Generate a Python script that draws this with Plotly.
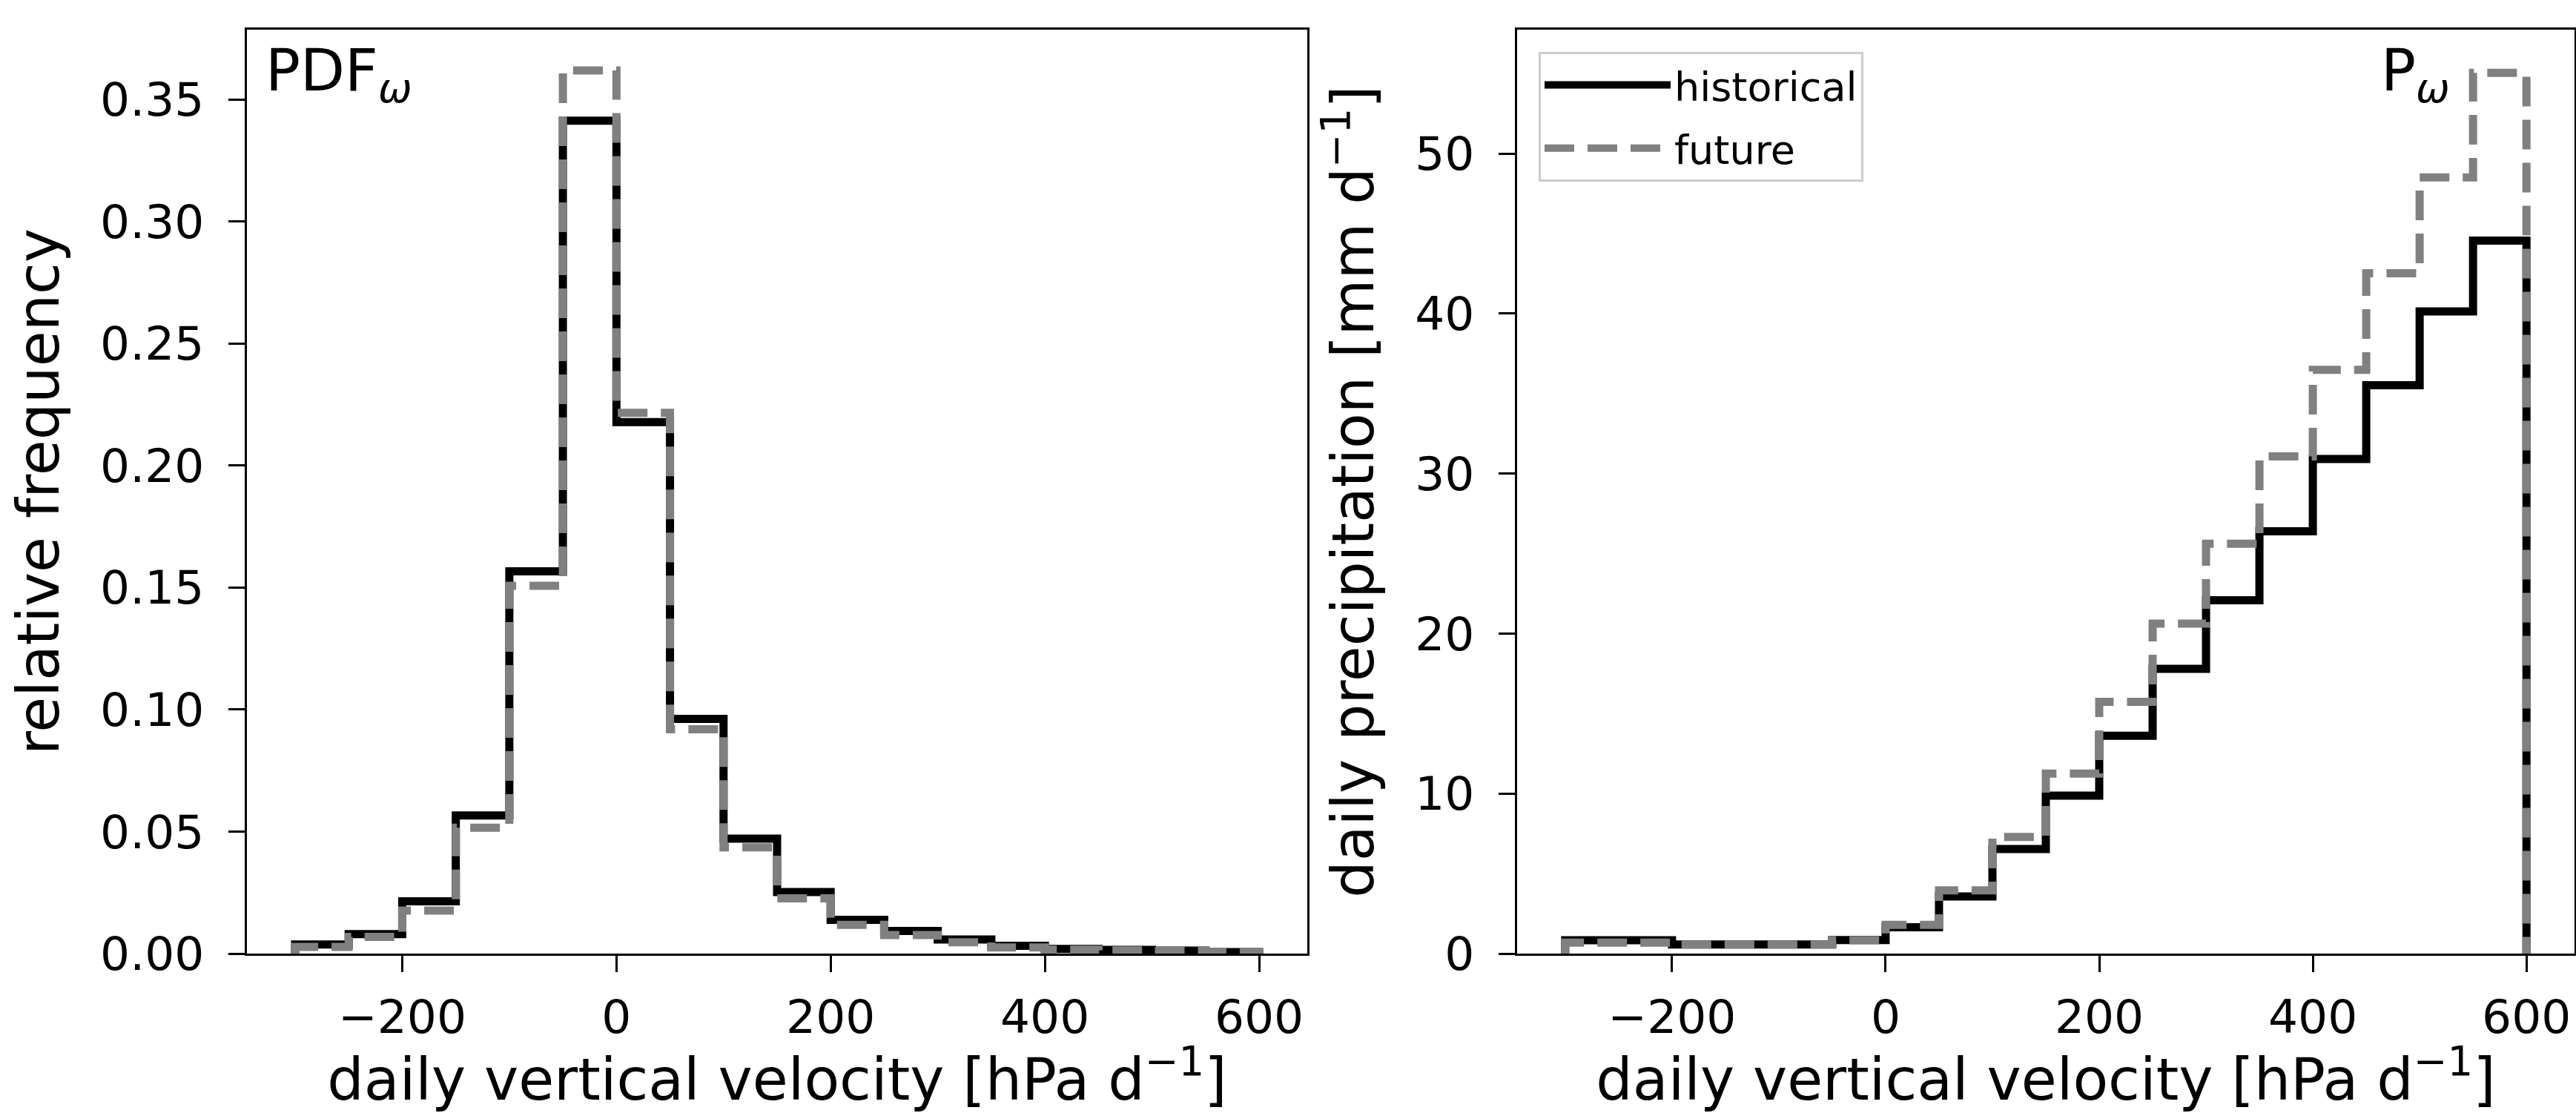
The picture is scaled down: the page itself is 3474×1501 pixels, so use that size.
import numpy as np
import plotly.graph_objects as go

# bin edges of the omega histograms [hPa/d]
edges = np.arange(-300, 601, 50)

# relative frequency of daily vertical velocity (PDF_omega)
pdf_hist = [0.0037, 0.0080, 0.0214, 0.0566, 0.1566, 0.3413, 0.2178, 0.0962, 0.0471,
            0.0252, 0.0138, 0.0093, 0.0058, 0.0032, 0.0019, 0.0015, 0.0012, 0.0006]
pdf_fut = [0.0027, 0.0068, 0.0176, 0.0516, 0.1507, 0.3619, 0.2216, 0.0919, 0.0435,
           0.0226, 0.0118, 0.0076, 0.0046, 0.0025, 0.0016, 0.0013, 0.0011, 0.0006]

# mean daily precipitation per omega bin (P_omega) [mm/d]
p_hist = [0.83, 0.83, 0.57, 0.57, 0.57, 0.85, 1.64, 3.57, 6.53,
          9.87, 13.62, 17.8, 22.08, 26.39, 30.92, 35.53, 40.14, 44.56]
p_fut = [0.68, 0.68, 0.57, 0.57, 0.57, 0.83, 1.8, 3.95, 7.29,
         11.25, 15.74, 20.62, 25.62, 31.08, 36.49, 42.53, 48.52, 55.05]

W, H = 3474, 1501
FONT = "DejaVu Sans"


def step_xy(vals):
    # matplotlib histtype='step' outline
    x = np.concatenate([[edges[0]], edges])
    y = np.concatenate([[0], vals, [0]])
    return x, y


fig = go.Figure()

panels = [(pdf_hist, pdf_fut, "x", "y", False), (p_hist, p_fut, "x2", "y2", True)]
for hist, fut, xa, ya, leg in panels:
    x, y = step_xy(hist)
    fig.add_trace(go.Scatter(x=x, y=y, mode="lines", line_shape="hv", name="historical",
                             line=dict(color="black", width=11), xaxis=xa, yaxis=ya,
                             showlegend=leg, legendgroup="h"))
    x, y = step_xy(fut)
    fig.add_trace(go.Scatter(x=x, y=y, mode="lines", line_shape="hv", name="future",
                             line=dict(color="gray", width=11, dash="40px,18px"),
                             xaxis=xa, yaxis=ya, showlegend=leg, legendgroup="f"))

common_x = dict(range=[-345, 645], dtick=200, tick0=0, showgrid=False, zeroline=False,
                showline=True, mirror=True, linecolor="black", linewidth=3,
                ticks="outside", ticklen=22, tickwidth=3, tickcolor="black",
                tickfont=dict(size=63, color="black"), ticklabelstandoff=6,
                automargin=False,
                title=dict(text="daily vertical velocity [hPa d<sup>\u22121</sup>]",
                           font=dict(size=78, color="black"), standoff=18))
common_y = dict(showgrid=False, zeroline=False, showline=True, mirror=True,
                linecolor="black", linewidth=3, ticks="outside", ticklen=22,
                tickwidth=3, tickcolor="black", tickfont=dict(size=63, color="black"),
                ticklabelstandoff=20, automargin=False)

dom_y = [1 - 1286 / H, 1 - 40 / H]

fig.update_layout(
    width=W, height=H,
    margin=dict(l=0, r=0, t=0, b=0),
    paper_bgcolor="white", plot_bgcolor="white",
    font=dict(family=FONT, color="black"),
    xaxis=dict(domain=[333 / W, 1763 / W], anchor="y", **common_x),
    xaxis2=dict(domain=[2046 / W, 3472 / W], anchor="y2", **common_x),
    yaxis=dict(domain=dom_y, anchor="x", range=[0, 0.3786], dtick=0.05, tickformat=".2f",
               title=dict(text="relative frequency", font=dict(size=78, color="black"),
                          standoff=30), **common_y),
    yaxis2=dict(domain=dom_y, anchor="x2", range=[0, 57.75], dtick=10,
                title=dict(text="daily precipitation [mm d<sup>\u22121</sup>]",
                           font=dict(size=78, color="black"), standoff=30), **common_y),
    legend=dict(x=2075 / W, y=1 - 70 / H, xanchor="left", yanchor="top",
                bgcolor="white", bordercolor="#cccccc", borderwidth=3,
                font=dict(size=54, color="black"), itemwidth=170, tracegroupgap=12),
    annotations=[
        dict(text="PDF<sub><i>\u03c9</i></sub>", xref="paper", yref="paper",
             x=356 / W, y=1 - 48 / H, xanchor="left", yanchor="top", showarrow=False,
             font=dict(size=78, color="black")),
        dict(text="P<sub><i>\u03c9</i></sub>", xref="paper", yref="paper",
             x=3306 / W, y=1 - 48 / H, xanchor="right", yanchor="top", showarrow=False,
             font=dict(size=78, color="black")),
    ],
)

# drop the browser's default 8px page margin so the figure fills the window
fig.write_html("out.html", config={"displayModeBar": False},
               post_script="document.body.style.margin='0';")
